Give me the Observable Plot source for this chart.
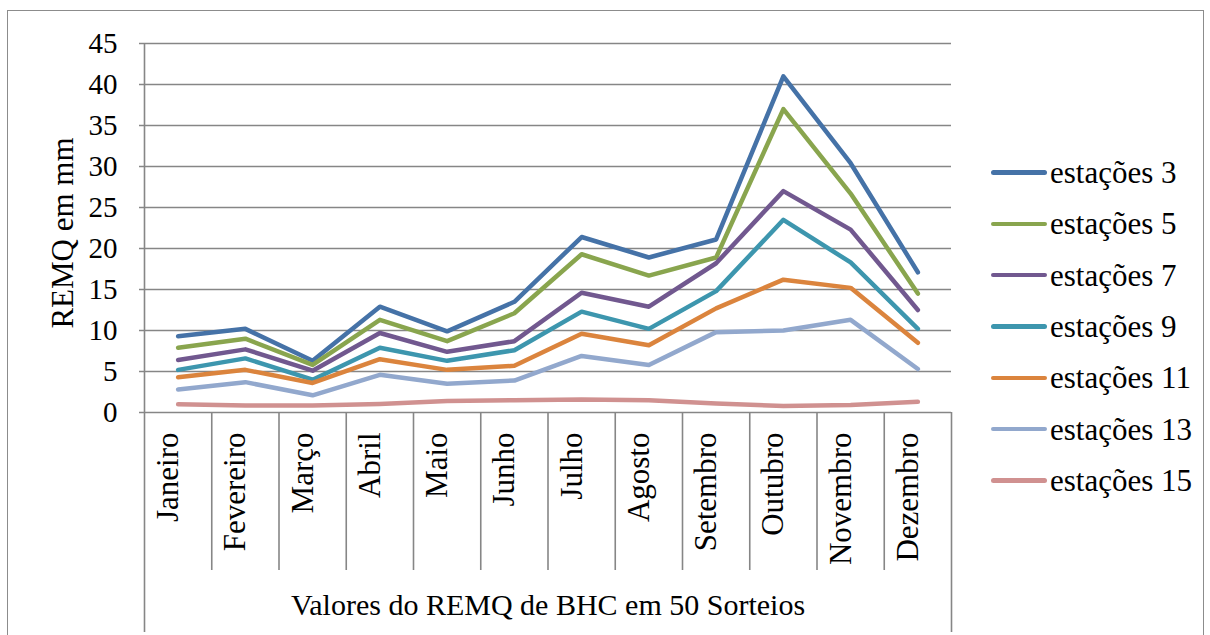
<!DOCTYPE html>
<html>
<head>
<meta charset="utf-8">
<script src="https://cdn.jsdelivr.net/npm/d3@7"></script>
<script src="https://cdn.jsdelivr.net/npm/@observablehq/plot@0.6"></script>
<style>
  html, body { margin: 0; padding: 0; background: #fff; }
  body { width: 1210px; height: 635px; position: relative; overflow: hidden;
         font-family: "Liberation Serif", "Times New Roman", serif; }
  #frame { position: absolute; left: 7px; top: 10px; width: 1197px; height: 650px;
           border: 1.5px solid #8c8c8c; box-sizing: border-box; }
  #chart { position: absolute; left: 0; top: 0; }
  #legend { position: absolute; left: 991px; top: 147px; }
  .row { display: flex; align-items: center; height: 51.3px; }
  .sw { width: 56px; height: 4.5px; border-radius: 2.5px; margin-right: 3px; }
  .lab { font-size: 31px; line-height: 1; color: #000; white-space: nowrap; }
</style>
</head>
<body>
<div id="frame"></div>
<div id="chart"></div>
<div id="legend"></div>
<script>
const months = ["Janeiro","Fevereiro","Março","Abril","Maio","Junho","Julho","Agosto","Setembro","Outubro","Novembro","Dezembro"];
const seriesNames = ["estações 3","estações 5","estações 7","estações 9","estações 11","estações 13","estações 15"];
const colors = ["#4572A7","#89A54E","#71588F","#3D96AE","#DB843D","#92A8CD","#D09190"];
const yTicks = [0,5,10,15,20,25,30,35,40,45];
const yTitle = "REMQ em mm";
const xTitle = "Valores do REMQ de BHC em 50 Sorteios";

const est3  = [9.3, 10.2, 6.3, 12.9, 9.9, 13.5, 21.4, 18.9, 21.1, 41.0, 30.4, 17.1];
const est5  = [7.9, 9.0, 5.8, 11.3, 8.7, 12.1, 19.3, 16.7, 18.9, 37.0, 26.7, 14.5];
const est7  = [6.4, 7.7, 5.1, 9.7, 7.4, 8.7, 14.6, 12.9, 18.2, 27.0, 22.3, 12.5];
const est9  = [5.2, 6.6, 4.0, 7.9, 6.3, 7.6, 12.3, 10.2, 14.8, 23.5, 18.3, 10.2];
const est11 = [4.3, 5.2, 3.6, 6.5, 5.2, 5.7, 9.6, 8.2, 12.7, 16.2, 15.2, 8.5];
const est13 = [2.8, 3.7, 2.1, 4.6, 3.5, 3.9, 6.9, 5.8, 9.8, 10.0, 11.3, 5.3];
const est15 = [1.0, 0.85, 0.85, 1.05, 1.4, 1.5, 1.6, 1.5, 1.1, 0.8, 0.9, 1.3];

const seriesValues = [est3, est5, est7, est9, est11, est13, est15];
const rows = [];
seriesValues.forEach((vals, s) => {
  vals.forEach((v, i) => rows.push({series: seriesNames[s], xi: i + 0.5, month: months[i], value: v}));
});

const grid = "#868686";
const chart = Plot.plot({
  width: 1210,
  height: 635,
  marginLeft: 144,
  marginRight: 259,
  marginTop: 43,
  marginBottom: 223,
  x: {domain: [0, months.length], axis: null},
  y: {domain: [0, 45], axis: null},
  color: {domain: seriesNames, range: colors},
  style: {fontFamily: '"Liberation Serif", "Times New Roman", serif', background: "transparent", color: "#000"},
  marks: [
    Plot.ruleY(yTicks, {y: d => d, stroke: grid, strokeWidth: 1.6, insetLeft: -5}),
    Plot.ruleX([0], {x: d => d, y1: 0, y2: 45, stroke: grid, strokeWidth: 1.6}),
    Plot.ruleX(d3.range(1, months.length), {x: d => d, y1: 0, y2: 0, insetBottom: -158, stroke: grid, strokeWidth: 1.6}),
    Plot.ruleX([0, months.length], {x: d => d, y1: 0, y2: 0, insetBottom: -220, stroke: grid, strokeWidth: 1.6}),
    Plot.text(yTicks, {y: d => d, text: d => String(d), frameAnchor: "left", textAnchor: "end", dx: -27, fontSize: 29, fill: "#000"}),
    Plot.text(months, {x: (d, i) => i + 0.5, text: d => d, frameAnchor: "bottom", rotate: -90, textAnchor: "end", dy: 20, fontSize: 31, fill: "#000"}),
    Plot.text([yTitle], {text: d => d, frameAnchor: "left", textAnchor: "middle", rotate: -90, dx: -81, dy: 5, fontSize: 31, fill: "#000"}),
    Plot.text([xTitle], {text: d => d, frameAnchor: "bottom", textAnchor: "middle", dy: 202, fontSize: 30, fill: "#000"}),
    Plot.line(rows, {x: "xi", y: "value", z: "series", stroke: "series", strokeWidth: 4.5, strokeLinejoin: "round", strokeLinecap: "round"})
  ]
});
document.getElementById("chart").appendChild(chart);

const legend = d3.select("#legend");
seriesNames.forEach((name, i) => {
  const r = legend.append("div").attr("class", "row");
  r.append("div").attr("class", "sw").style("background", colors[i]);
  r.append("div").attr("class", "lab").text(name);
});
</script>
</body>
</html>
